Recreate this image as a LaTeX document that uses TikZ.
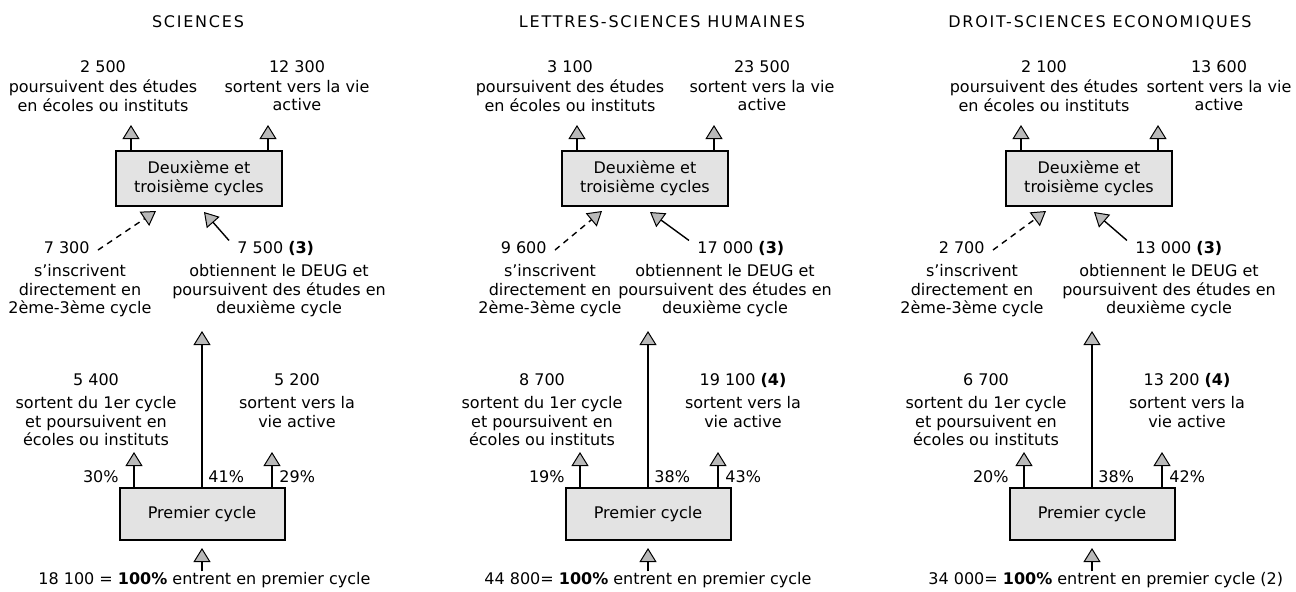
\documentclass[tikz,border=0pt]{standalone}
\usepackage{fontspec}
\setmainfont{DejaVu Sans}
\newfontfamily\ttlfont[LetterSpace=11]{DejaVu Sans}
\usetikzlibrary{arrows.meta}

\begin{document}
\begin{tikzpicture}[x=0.5pt,y=-0.5pt,font=\fontsize{8}{9.3}\selectfont,
  cycle box/.style={draw,line width=1pt,fill=gray!22,align=center,
    minimum width=83pt,minimum height=27.5pt,inner sep=0pt},
  txt/.style={align=center,inner sep=0pt,anchor=north},
  num/.style={inner sep=0pt,anchor=base},
  flow/.style={line width=0.7pt,
    -{Triangle[width=8.5pt,length=7pt,fill=gray!55,line width=0.5pt]}},
  direct/.style={flow,dash pattern=on 3pt off 2.5pt}]
\useasboundingbox (0,0) rectangle (1296,591);
\foreach \c/\ttl/\tdx/\ul/\ur/\na/\nb/\dn/\nc/\sn/\nd/\ml/\ne/\nf/\pa/\pb/\pc/\bot [count=\i] in
{199/SCIENCES/-1/-96/98/2 500/12 300/-109/7 300/38/7 500/-119/5 400/5 200/30/41/29/{18 100 = \textbf{100\%} entrent en premier cycle},
 645/LETTRES-SCIENCES HUMAINES/17/-75/117/3 100/23 500/-98/9 600/52/17 000/-95/8 700/{19 100 \textbf{(4)}}/19/38/43/{44 800= \textbf{100\%} entrent en premier cycle},
 1089/DROIT-SCIENCES ECONOMIQUES/11/-45/130/2 100/13 600/-104/2 700/46/13 000/-117/6 700/{13 200 \textbf{(4)}}/20/38/42/{34 000= \textbf{100\%} entrent en premier cycle (2)}}
{
  % title and the two cycle boxes
  \node[num,font=\fontsize{8}{9.3}\ttlfont] (T-\i) at (\c+\tdx,27) {\ttl};
  \node[cycle box] (D-\i) at (\c,178.5) {Deuxième et\\troisième cycles};
  \node[cycle box,minimum width=82.5pt,minimum height=26pt] (P-\i) at (\c+3,514) {Premier cycle};
  % leaving the second and third cycles
  \node[num] (A-\i) at (\c+\ul,72) {\na};
  \node[txt] (TL-\i) at (\c+\ul,79.5) {poursuivent des études\\en écoles ou instituts};
  \node[num] (B-\i) at (\c+\ur,72) {\nb};
  \node[txt] (TR-\i) at (\c+\ur,79.5) {sortent vers la vie\\active};
  \coordinate (ta-\i) at (\c-68,125);
  \coordinate (tb-\i) at (\c+69,125);
  \draw[flow] (D-\i.north -| ta-\i) -- (ta-\i);
  \draw[flow] (D-\i.north -| tb-\i) -- (tb-\i);
  % entering the second cycle
  \node[num,anchor=base east] (C-\i) at (\c+\dn,253) {\nc};
  \node[num,anchor=base west] (E-\i) at (\c+\sn,253) {\nd\ \textbf{(3)}};
  \node[txt] (ML-\i) at (\c+\ml,264) {s’inscrivent\\directement en\\2ème-3ème cycle};
  \node[txt] (MR-\i) at (\c+80,264) {obtiennent le DEUG et\\poursuivent des études en\\deuxième cycle};
  \coordinate (da-\i) at (\c-43,211);
  \coordinate (sa-\i) at (\c+5,212);
  \draw[direct] ([shift={(4pt,1.5pt)}]C-\i.base east) -- (da-\i);
  \draw[flow] ([xshift=-4pt]E-\i.north west) -- (sa-\i);
  % leaving the first cycle
  \coordinate (la-\i) at (\c+3,331);
  \draw[flow] (P-\i.north) -- (la-\i);
  \node[num] (F-\i) at (\c-103,385) {\ne};
  \node[txt] (LL-\i) at (\c-103,396) {sortent du 1er cycle\\et poursuivent en\\écoles ou instituts};
  \node[num] (G-\i) at (\c+98,385) {\nf};
  \node[txt] (LR-\i) at (\c+98,396) {sortent vers la\\vie active};
  \coordinate (pa-\i) at (\c-65,452);
  \coordinate (pb-\i) at (\c+73,452);
  \draw[flow] (P-\i.north -| pa-\i) -- (pa-\i);
  \draw[flow] (P-\i.north -| pb-\i) -- (pb-\i);
  \node[num,anchor=base east] (Q1-\i) at (\c-80,482) {\pa\%};
  \node[num,anchor=base west] (Q2-\i) at (\c+9,482) {\pb\%};
  \node[num,anchor=base west] (Q3-\i) at (\c+80,482) {\pc\%};
  % entering the first cycle
  \node[num,anchor=base west] (Z-\i) at (\c-161,584) {\bot};
  \coordinate (ba-\i) at (\c+3,548);
  \draw[flow] (Z-\i.north -| ba-\i) -- (ba-\i);
}
\end{tikzpicture}
\end{document}
